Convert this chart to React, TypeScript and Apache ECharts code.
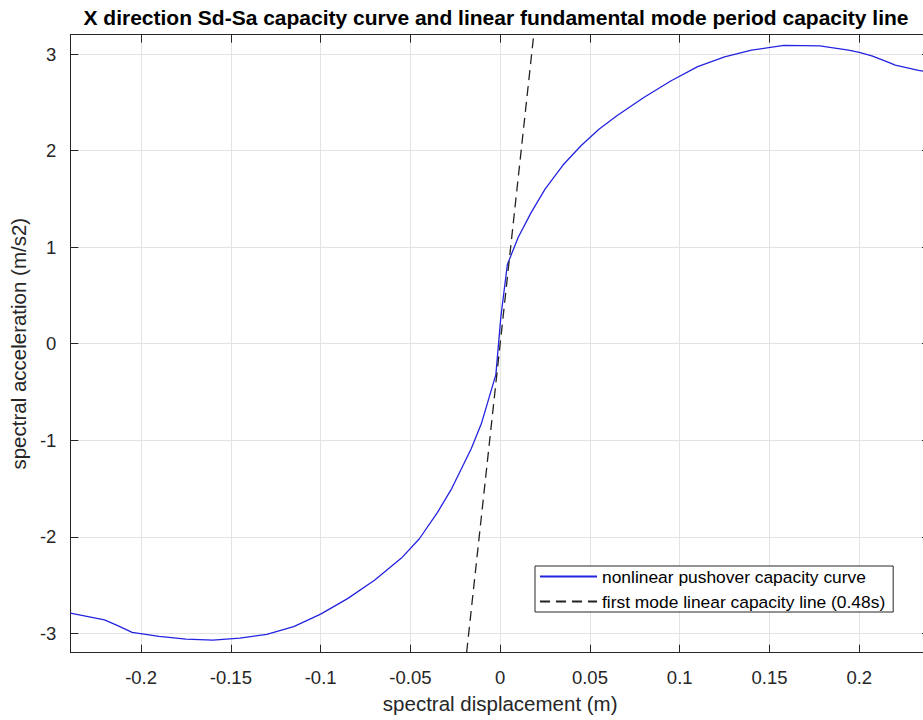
import React, { useEffect, useRef } from "react";
import * as echarts from "echarts";

// nonlinear pushover capacity curve (Sd in m, Sa in m/s2)
const curveSd = [
  -0.2394, -0.2204, -0.213, -0.205, -0.19, -0.175, -0.16, -0.145, -0.13, -0.115,
  -0.1, -0.085, -0.07, -0.055, -0.045, -0.035, -0.027, -0.0162, -0.0105, -0.0024,
  0.0004, 0.004, 0.01, 0.017, 0.025, 0.035, 0.045, 0.055, 0.065, 0.08,
  0.095, 0.11, 0.125, 0.14, 0.158, 0.178, 0.194, 0.2, 0.207, 0.2167,
  0.22, 0.233, 0.2394,
];
const curveSa = [
  -2.79, -2.86, -2.92, -2.99, -3.03, -3.06, -3.07, -3.05, -3.01, -2.93,
  -2.8, -2.64, -2.45, -2.22, -2.02, -1.75, -1.5, -1.09, -0.83, -0.32,
  0.28, 0.82, 1.1, 1.35, 1.6, 1.85, 2.05, 2.22, 2.36, 2.55,
  2.72, 2.87, 2.97, 3.04, 3.09, 3.085, 3.04, 3.016, 2.98, 2.91,
  2.886, 2.83, 2.81,
];

// first mode linear capacity line (T = 0.48 s)
const linearSd = [-0.0187, 0.0187];
const linearSa = [-3.2, 3.2];

const xRange = [-0.2394, 0.2394];
const yRange = [-3.2, 3.2];

const seriesNames = [
  "nonlinear pushover capacity curve",
  "first mode linear capacity line (0.48s)",
];

const titleText =
  "X direction Sd-Sa capacity curve and linear fundamental mode period capacity line";
const xName = "spectral displacement (m)";
const yName = "spectral acceleration (m/s2)";

const FONT = "'Liberation Sans', Arial, Helvetica, sans-serif";
const AX = "#262626";

export default function App() {
  const ref = useRef<HTMLDivElement>(null);

  useEffect(() => {
    if (!ref.current) return;
    const chart = echarts.init(ref.current, null, { renderer: "svg" });
    const axisLine = { show: true, onZero: false, lineStyle: { color: AX, width: 1 } };
    const tick = { show: true, inside: true, length: 8, lineStyle: { color: AX, width: 1 } };
    chart.setOption({
      animation: false,
      backgroundColor: "#ffffff",
      textStyle: { fontFamily: FONT },
      title: {
        text: titleText,
        left: 491,
        top: 2,
        textAlign: "center",
        textStyle: { fontFamily: FONT, fontSize: 21, fontWeight: "bold", color: "#000" },
      },
      grid: { left: 67.5, right: 10, top: 34.7, bottom: 67.3, containLabel: false },
      legend: {
        orient: "vertical",
        left: 535,
        top: 566,
        data: seriesNames,
        itemWidth: 57,
        itemHeight: 14,
        itemGap: 8,
        padding: [2, 8, 2, 4],
        borderColor: AX,
        borderWidth: 1,
        backgroundColor: "#ffffff",
        itemStyle: { opacity: 0 },
        textStyle: { fontFamily: FONT, fontSize: 17.4, color: "#000" },
      },
      xAxis: [
        {
          type: "value",
          min: xRange[0],
          max: xRange[1],
          splitNumber: 10,
          minInterval: 0.05,
          maxInterval: 0.05,
          axisLine,
          axisTick: tick,
          axisLabel: {
            showMinLabel: false,
            showMaxLabel: false,
            margin: 15,
            fontSize: 18.5,
            color: AX,
            fontFamily: FONT,
          },
          splitLine: { show: true, lineStyle: { color: "#e3e3e3", width: 1 } },
          name: xName,
          nameLocation: "middle",
          nameGap: 40,
          nameTextStyle: { fontSize: 20.5, color: AX, fontFamily: FONT },
        },
        {
          type: "value",
          position: "top",
          min: xRange[0],
          max: xRange[1],
          splitNumber: 10,
          minInterval: 0.05,
          maxInterval: 0.05,
          axisLine,
          axisTick: tick,
          axisLabel: { show: false },
          splitLine: { show: false },
        },
      ],
      yAxis: [
        {
          type: "value",
          min: yRange[0],
          max: yRange[1],
          splitNumber: 6,
          minInterval: 1,
          maxInterval: 1,
          axisLine,
          axisTick: tick,
          axisLabel: {
            showMinLabel: false,
            showMaxLabel: false,
            margin: 14,
            fontSize: 18.5,
            color: AX,
            fontFamily: FONT,
          },
          splitLine: { show: true, lineStyle: { color: "#e3e3e3", width: 1 } },
          name: yName,
          nameLocation: "middle",
          nameGap: 38,
          nameTextStyle: { fontSize: 20.5, color: AX, fontFamily: FONT },
        },
        {
          type: "value",
          position: "right",
          min: yRange[0],
          max: yRange[1],
          splitNumber: 6,
          minInterval: 1,
          maxInterval: 1,
          axisLine,
          axisTick: tick,
          axisLabel: { show: false },
          splitLine: { show: false },
        },
      ],
      series: [
        {
          name: seriesNames[0],
          type: "line",
          xAxisIndex: 0,
          yAxisIndex: 0,
          data: curveSd.map((x, i) => [x, curveSa[i]]),
          symbol: "none",
          showSymbol: false,
          smooth: false,
          lineStyle: { color: "#2323e0", width: 1.3 },
          itemStyle: { color: "#2323e0" },
          clip: true,
        },
        {
          name: seriesNames[1],
          type: "line",
          xAxisIndex: 0,
          yAxisIndex: 0,
          data: linearSd.map((x, i) => [x, linearSa[i]]),
          symbol: "none",
          showSymbol: false,
          lineStyle: { color: "#222", width: 1.3, type: [10, 6] },
          itemStyle: { color: "#222" },
          clip: true,
        },
      ],
    });
    return () => chart.dispose();
  }, []);

  return (
    <div
      style={{
        position: "fixed",
        left: 0,
        top: 0,
        width: 923,
        height: 720,
        overflow: "hidden",
        background: "#fff",
      }}
    >
      <div ref={ref} style={{ width: 940, height: 720 }} />
    </div>
  );
}
